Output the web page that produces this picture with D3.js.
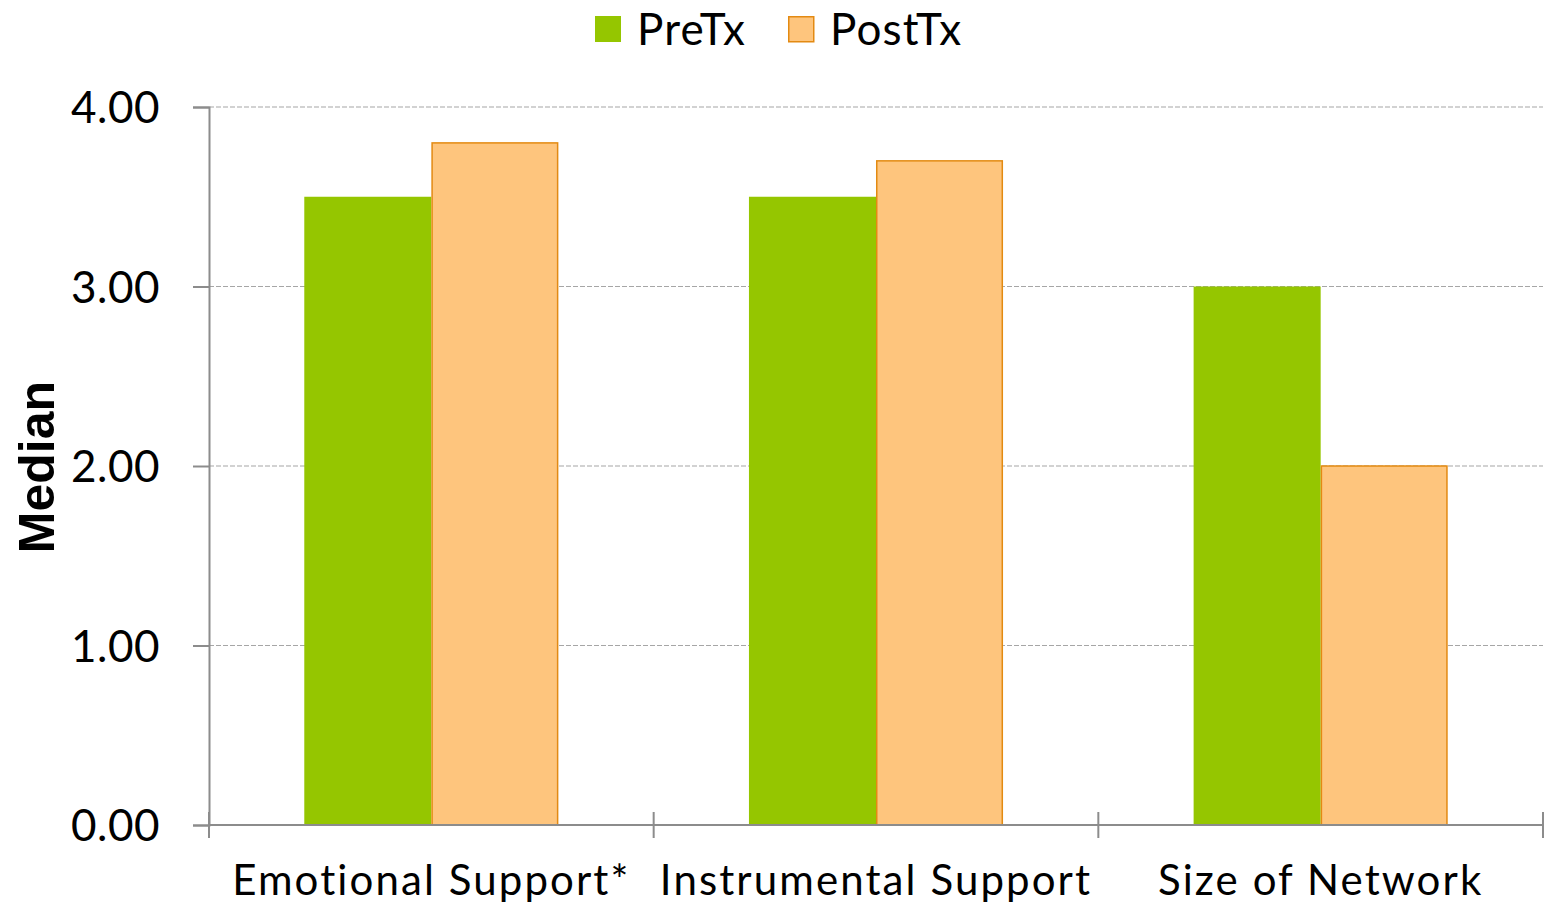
<!DOCTYPE html>
<html>
<head>
<meta charset="utf-8">
<script src="https://cdn.jsdelivr.net/npm/d3@7"></script>
<style>
  html, body { margin: 0; padding: 0; background: #fff; }
  svg { display: block; }
  .lbl { font-family: "Century Gothic", "URW Gothic", "Lato", "DejaVu Sans", sans-serif; fill: #000; }
</style>
</head>
<body>
<svg id="chart" width="1544" height="904"></svg>
<script>
// Median social support scores before and after treatment
const categories = ["Emotional Support*", "Instrumental Support", "Size of Network"];
const seriesNames = ["PreTx", "PostTx"];
const preTx = [3.5, 3.5, 3.0];
const postTx = [3.8, 3.7, 2.0];
const yTicks = [0, 1, 2, 3, 4];
const yTitle = "Median";

const W = 1544, H = 904;
const m = { left: 209, right: 1, top: 107, bottom: 79 };
const plotW = W - m.left - m.right, plotH = H - m.top - m.bottom;

const colors = { PreTx: "#95C600", PostTx: "#FEC57D" };
const strokes = { PreTx: "none", PostTx: "#E38A12" };

const svg = d3.select("#chart");
const g = svg.append("g").attr("transform", `translate(${m.left},${m.top})`);

const x0 = d3.scaleBand().domain(categories).range([0, plotW]).paddingInner(0).paddingOuter(0);
const barW = x0.bandwidth() / 3.5;
const x1 = d3.scaleBand().domain(seriesNames)
  .range([barW * 0.75, x0.bandwidth() - barW * 0.75]).padding(0);
const y = d3.scaleLinear().domain([0, 4]).range([plotH, 0]);

// dashed horizontal gridlines
g.append("g").selectAll("line").data(yTicks.filter(d => d > 0)).join("line")
  .attr("x1", 0).attr("x2", plotW)
  .attr("y1", d => y(d)).attr("y2", d => y(d))
  .attr("stroke", "#a6a6a6").attr("stroke-width", 1.2).attr("stroke-dasharray", "5,2");

// bars
const rows = categories.map((c, i) => ({ cat: c, vals: [
  { key: "PreTx", v: preTx[i] }, { key: "PostTx", v: postTx[i] } ] }));
const grp = g.append("g").selectAll("g").data(rows).join("g")
  .attr("transform", d => `translate(${x0(d.cat)},0)`);
grp.selectAll("rect").data(d => d.vals).join("rect")
  .attr("x", d => x1(d.key) + (d.key === "PostTx" ? 0.75 : 0))
  .attr("y", d => y(d.v))
  .attr("width", d => x1.bandwidth() - (d.key === "PostTx" ? 1.5 : 0))
  .attr("height", d => y(0) - y(d.v))
  .attr("fill", d => colors[d.key])
  .attr("stroke", d => strokes[d.key])
  .attr("stroke-width", 1.5);

// y axis
const yAxis = g.append("g").call(d3.axisLeft(y).tickValues(yTicks).tickFormat(d3.format(".2f")).tickSize(16).tickPadding(33));
yAxis.select(".domain").attr("stroke", "#8c8c8c").attr("stroke-width", 2);
yAxis.selectAll(".tick line").attr("stroke", "#8c8c8c").attr("stroke-width", 2);
yAxis.selectAll(".tick text").attr("class", "lbl").attr("font-size", 44)
  .attr("dy", "0.36em").attr("letter-spacing", 0.5);

// x axis with ticks at category boundaries
const xAxisG = g.append("g").attr("transform", `translate(0,${plotH})`);
xAxisG.append("line").attr("x1", 0).attr("x2", plotW).attr("y1", 0).attr("y2", 0)
  .attr("stroke", "#8c8c8c").attr("stroke-width", 2);
const bounds = categories.map(c => x0(c)).concat([plotW]);
xAxisG.selectAll("line.tk").data(bounds).join("line").attr("class", "tk")
  .attr("x1", d => d).attr("x2", d => d).attr("y1", -13).attr("y2", 13)
  .attr("stroke", "#8c8c8c").attr("stroke-width", 2);
xAxisG.selectAll("text").data(categories).join("text").attr("class", "lbl")
  .attr("x", d => x0(d) + x0.bandwidth() / 2).attr("y", 70)
  .attr("text-anchor", "middle").attr("font-size", 42).attr("letter-spacing", 2.1).text(d => d);

// y axis title
svg.append("text").attr("transform", `translate(54,${m.top + plotH / 2 + 1}) rotate(-90)`)
  .attr("text-anchor", "middle").attr("font-family", "Liberation Sans, Arial, sans-serif")
  .attr("font-weight", "bold").attr("font-size", 50).text(yTitle);

// legend
const legend = svg.append("g");
const legendX = [595, 788];
seriesNames.forEach((s, i) => {
  const lg = legend.append("g").attr("transform", `translate(${legendX[i]},16)`);
  lg.append("rect").attr("x", s === "PostTx" ? 0.75 : 0).attr("y", s === "PostTx" ? 0.75 : 0)
    .attr("width", s === "PostTx" ? 25 : 26).attr("height", s === "PostTx" ? 25 : 26)
    .attr("fill", colors[s]).attr("stroke", strokes[s]).attr("stroke-width", 1.5);
  lg.append("text").attr("class", "lbl").attr("x", 42).attr("y", 29)
    .attr("font-size", 44).attr("letter-spacing", 1.2).text(s);
});
</script>
</body>
</html>
